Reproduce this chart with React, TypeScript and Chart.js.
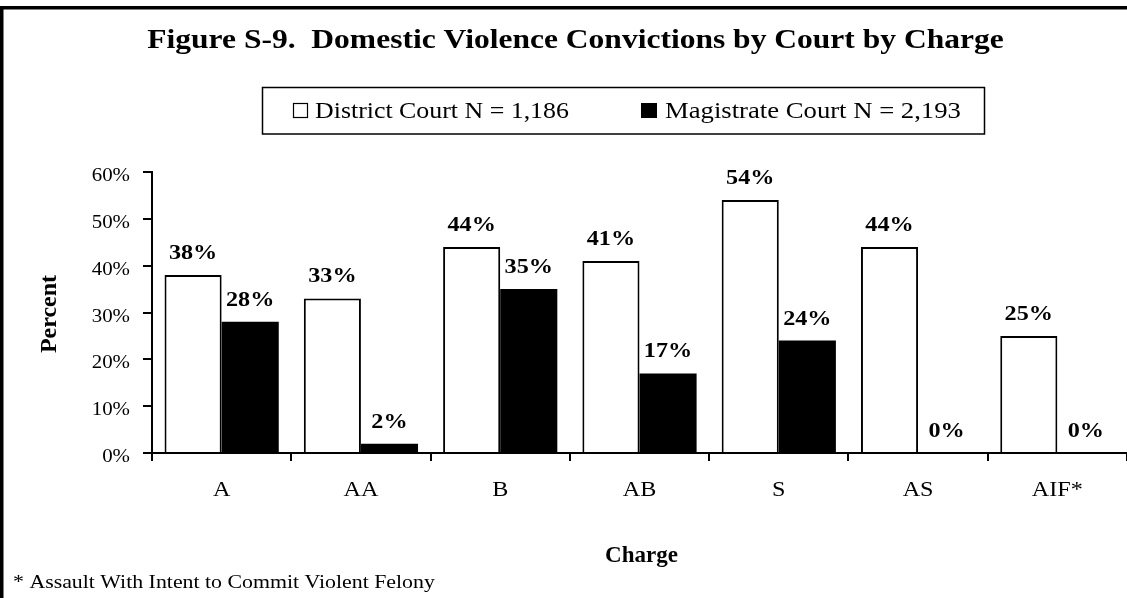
import React, { useEffect, useRef } from "react";
import { Chart, registerables } from "chart.js";

Chart.register(...registerables);

const categories = ["A", "AA", "B", "AB", "S", "AS", "AIF*"];
const districtValues = [38, 33, 44, 41, 54, 44, 25];
const magistrateValues = [28, 2, 35, 17, 24, 0, 0];
const seriesLabels = ["District Court N = 1,186", "Magistrate Court N = 2,193"];
const yTicks = [0, 10, 20, 30, 40, 50, 60];
const titleText = "Figure S-9.  Domestic Violence Convictions by Court by Charge";
const xTitle = "Charge";
const yTitle = "Percent";
const footnote = "* Assault With Intent to Commit Violent Felony";

const SERIF = "'Liberation Serif', 'Times New Roman', serif";

function drawText(
  ctx: CanvasRenderingContext2D,
  text: string,
  x: number,
  y: number,
  font: string,
  align: CanvasTextAlign,
  sx: number
) {
  ctx.save();
  ctx.font = font;
  ctx.textBaseline = "alphabetic";
  ctx.textAlign = align;
  ctx.translate(x, y);
  ctx.scale(sx, 1);
  ctx.fillStyle = "#000";
  ctx.fillText(text, 0, 0);
  ctx.restore();
}

const decorPlugin = {
  id: "decor",
  beforeDraw(chart: any) {
    const ctx = chart.ctx;
    ctx.save();
    ctx.fillStyle = "#fff";
    ctx.fillRect(0, 0, chart.width, chart.height);
    ctx.strokeStyle = "#000";
    ctx.lineWidth = 3.5;
    ctx.beginPath();
    ctx.moveTo(1.75, chart.height + 5);
    ctx.lineTo(1.75, 7.75);
    ctx.lineTo(chart.width + 5, 7.75);
    ctx.stroke();
    ctx.restore();
  },
  afterDraw(chart: any) {
    const ctx = chart.ctx;
    const area = chart.chartArea;
    const xs = chart.scales.x;
    const ys = chart.scales.y;

    // title
    drawText(ctx, titleText, 575.5, 48, `bold 28px ${SERIF}`, "center", 1.126);

    // legend
    ctx.save();
    ctx.strokeStyle = "#000";
    ctx.lineWidth = 1.5;
    ctx.strokeRect(262.5, 87.5, 722, 46.5);
    ctx.fillStyle = "#fff";
    ctx.fillRect(293.5, 103.5, 14, 14);
    ctx.lineWidth = 1.2;
    ctx.strokeRect(293.5, 103.5, 14, 14);
    ctx.fillStyle = "#000";
    ctx.fillRect(641, 103, 16, 15);
    ctx.restore();
    drawText(ctx, seriesLabels[0], 315, 118, `23px ${SERIF}`, "left", 1.125);
    drawText(ctx, seriesLabels[1], 665, 118, `23px ${SERIF}`, "left", 1.16);

    // y tick labels
    yTicks.forEach((v) => {
      drawText(ctx, `${v}%`, 130, ys.getPixelForValue(v) + 9, `19px ${SERIF}`, "right", 1.1);
    });
    // x tick labels
    categories.forEach((c, i) => {
      drawText(ctx, c, xs.getPixelForValue(i), 496, `21px ${SERIF}`, "center", 1.15);
    });

    // axis titles
    drawText(ctx, xTitle, (area.left + area.right) / 2 + 2, 562, `bold 23px ${SERIF}`, "center", 1.0);
    ctx.save();
    ctx.translate(56, 314);
    ctx.rotate(-Math.PI / 2);
    drawText(ctx, yTitle, 0, 0, `bold 24px ${SERIF}`, "center", 1.0);
    ctx.restore();

    // footnote
    drawText(ctx, footnote, 13, 588, `19.5px ${SERIF}`, "left", 1.12);

    // data labels
    chart.data.datasets.forEach((ds: any, i: number) => {
      const meta = chart.getDatasetMeta(i);
      meta.data.forEach((el: any, j: number) => {
        drawText(ctx, `${ds.data[j]}%`, el.x, el.y - 16, `bold 22px ${SERIF}`, "center", 1.1);
      });
    });
  },
};

export default function App() {
  const ref = useRef<HTMLCanvasElement | null>(null);
  useEffect(() => {
    if (!ref.current) return;
    const chart = new Chart(ref.current, {
      type: "bar",
      data: {
        labels: categories,
        datasets: [
          {
            label: seriesLabels[0],
            data: districtValues,
            backgroundColor: "#fff",
            borderColor: "#000",
            borderWidth: 2,
            borderSkipped: "start",
            barPercentage: 1,
            categoryPercentage: 0.82,
          },
          {
            label: seriesLabels[1],
            data: magistrateValues,
            backgroundColor: "#000",
            borderColor: "#000",
            borderWidth: 0,
            barPercentage: 1,
            categoryPercentage: 0.82,
          },
        ],
      },
      options: {
        responsive: false,
        animation: false,
        events: [],
        layout: { padding: { left: 37, top: 172, right: 0, bottom: 32 } },
        plugins: {
          legend: { display: false },
          title: { display: false },
          tooltip: { enabled: false },
        },
        scales: {
          x: {
            grid: {
              display: true,
              drawOnChartArea: false,
              drawTicks: true,
              tickLength: 8,
              color: "#000",
              lineWidth: 2,
              offset: true,
            },
            border: { display: true, color: "#000", width: 2 },
            ticks: { display: false },
            afterFit: (s: any) => {
              s.height = 113;
            },
          },
          y: {
            min: 0,
            max: 60,
            afterBuildTicks: (s: any) => {
              s.ticks = yTicks.map((v) => ({ value: v }));
            },
            grid: {
              display: true,
              drawOnChartArea: false,
              drawTicks: true,
              tickLength: 9,
              color: "#000",
              lineWidth: 2,
            },
            border: { display: true, color: "#000", width: 2 },
            ticks: { display: false },
            afterFit: (s: any) => {
              s.width = 115;
            },
          },
        },
      },
      plugins: [decorPlugin],
    });
    return () => chart.destroy();
  }, []);
  return (
    <div style={{ position: "fixed", left: 0, top: 0, width: 1127, height: 598, background: "#fff" }}>
      <canvas ref={ref} width={1127} height={598} />
    </div>
  );
}
